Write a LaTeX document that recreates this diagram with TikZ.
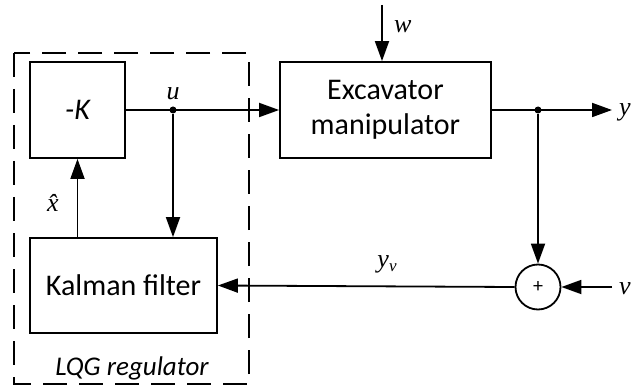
\documentclass[tikz,border=0pt]{standalone}
\usepackage{fontspec}
\setmainfont{Carlito}
\newfontfamily\labfont{Liberation Serif}
\usetikzlibrary{positioning, arrows.meta, calc}
\tikzset{
  block/.style={
    draw, line width=1.8pt, align=center,
    font=\fontsize{30}{35}\selectfont
  },
  sumnode/.style={
    circle, draw, line width=1.8pt, minimum size=45pt, inner sep=0pt,
    font=\fontsize{20}{20}\selectfont
  },
  sig/.style={draw, line width=1.8pt, -{Triangle[length=20pt, width=14pt]}},
  groupbox/.style={draw, line width=1.8pt, dash pattern=on 24pt off 12pt},
  lab/.style={font=\fontsize{26}{26}\selectfont\labfont\itshape, inner sep=1pt},
  dot/.style={circle, fill, inner sep=0pt, minimum size=7pt},
}
\begin{document}
\begin{tikzpicture}[x=1pt, y=-1pt]
  \useasboundingbox (0,0) rectangle (636,387);
  % blocks
  \node[block, minimum width=95pt, minimum height=96pt] (K) at (77.5,110) {\itshape -K};
  \node[block, minimum width=211pt, minimum height=96pt] (plant) at (385.5,110) {Excavator\\manipulator};
  \node[block, minimum width=187pt, minimum height=95pt] (kf) at (123.5,285.5) {Kalman filter};
  \node[sumnode] (sum) at (538,287) {+};
  % branch points and free ends
  \node[dot] (ju) at (173,110) {};
  \node[dot] (jy) at (538,110) {};
  \coordinate (win) at (382,5);
  \coordinate (yout) at (612,110);
  \coordinate (vin) at (612,287);
  % signals
  \path[sig] (K.east) -- (plant.west);
  \path[sig] (win) -- (plant.north -| win);
  \path[sig] (plant.east) -- (yout);
  \path[sig] (ju) -- (ju |- kf.north);
  \path[sig] (jy) -- (sum.north);
  \path[sig] (vin) -- (sum.east);
  \path[sig] (sum.west) -- (kf.east);
  \path[sig] (kf.north -| K) -- (K.south);
  % labels
  \node[lab, above=5pt of ju] {u};
  \node[lab, anchor=west] at (393,27) {w};
  \node[lab, anchor=west] at (618,112) {y};
  \node[lab, anchor=west] at (618,289) {v};
  \node[lab] at (387,264) {y\raisebox{-4pt}{\fontsize{17}{17}\selectfont v}};
  \node[lab] at (53,203) {\^{x}};
  % regulator frame
  \path[groupbox] (14,53) rectangle (249,384);
  \node[font=\fontsize{27}{27}\selectfont\itshape] at (132,368) {LQG regulator};
\end{tikzpicture}
\end{document}
